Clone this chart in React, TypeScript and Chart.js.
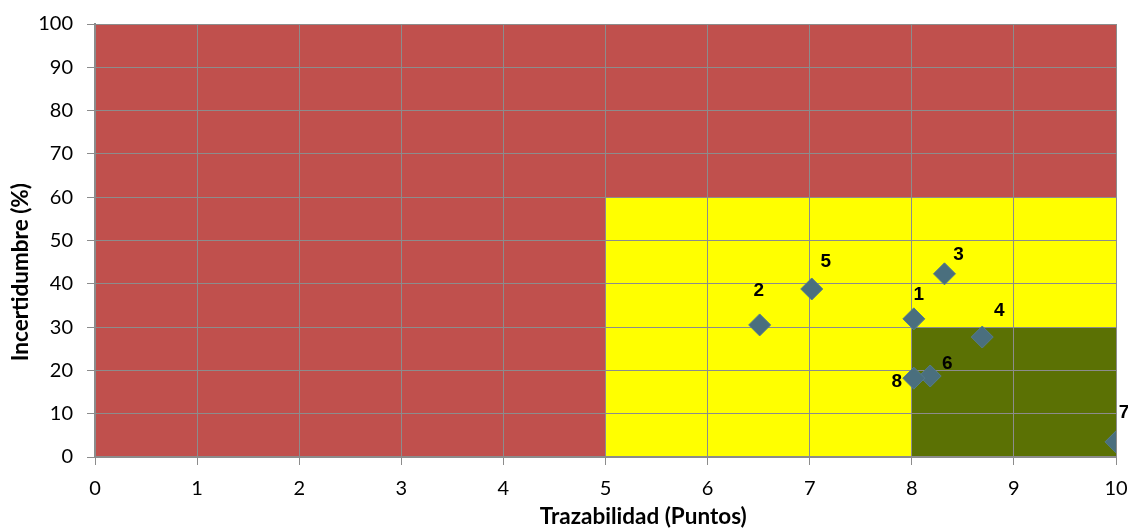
import React, { useEffect, useRef } from "react";
import { Chart, registerables } from "chart.js";

Chart.register(...registerables);

const pointIds = ["1", "2", "3", "4", "5", "6", "7", "8"];
const trazabilidad = [8.02, 6.51, 8.32, 8.69, 7.02, 8.18, 10.0, 8.02];
const incertidumbre = [31.9, 30.5, 42.3, 27.7, 38.8, 18.7, 3.5, 18.2];

// zones: [xMin, xMax, yMin, yMax, color]
const zoneXMin = [0, 5, 8];
const zoneXMax = [10, 10, 10];
const zoneYMin = [0, 0, 0];
const zoneYMax = [100, 60, 30];
const zoneColors = ["#C0504D", "#FFFF00", "#5B7104"];

const xTicks = [0, 1, 2, 3, 4, 5, 6, 7, 8, 9, 10];
const yTicks = [0, 10, 20, 30, 40, 50, 60, 70, 80, 90, 100];

const xTitle = "Trazabilidad (Puntos)";
const yTitle = "Incertidumbre (%)";

// label offsets in pixels (style only)
const labelDx = [5, -1, 14, 17, 14, 17, 8, -17];
const labelDy = [-24, -34, -19, -26, -27, -12, -29, 4];

const zonesPlugin = {
  id: "zones",
  beforeDraw(chart: any) {
    const { ctx, scales } = chart;
    const xs = scales.x;
    const ys = scales.y;
    ctx.save();
    for (let i = 0; i < zoneColors.length; i++) {
      const x1 = xs.getPixelForValue(zoneXMin[i]);
      const x2 = xs.getPixelForValue(zoneXMax[i]);
      const y1 = ys.getPixelForValue(zoneYMax[i]);
      const y2 = ys.getPixelForValue(zoneYMin[i]);
      ctx.fillStyle = zoneColors[i];
      ctx.fillRect(x1, y1, x2 - x1, y2 - y1);
    }
    ctx.restore();
  },
};

const labelsPlugin = {
  id: "ptlabels",
  afterDatasetsDraw(chart: any) {
    const { ctx } = chart;
    const meta = chart.getDatasetMeta(0);
    ctx.save();
    ctx.font = "bold 19px 'Liberation Sans', Arial, sans-serif";
    ctx.fillStyle = "#000000";
    ctx.textAlign = "center";
    ctx.textBaseline = "middle";
    meta.data.forEach((el: any, i: number) => {
      ctx.fillText(pointIds[i], el.x + labelDx[i], el.y + labelDy[i]);
    });
    ctx.restore();
  },
};

const titlesPlugin = {
  id: "axtitles",
  afterDraw(chart: any) {
    const { ctx, chartArea } = chart;
    const w = chartArea.right - chartArea.left;
    const h = chartArea.bottom - chartArea.top;
    ctx.save();
    ctx.font = "bold 22.5px Lato, 'Open Sans', sans-serif";
    ctx.fillStyle = "#000000";
    ctx.textAlign = "center";
    ctx.textBaseline = "middle";
    ctx.fillText(xTitle, chartArea.left + 0.537 * w, 517);
    ctx.translate(21, chartArea.top + 0.573 * h);
    ctx.rotate(-Math.PI / 2);
    ctx.fillText(yTitle, 0, 0);
    ctx.restore();
  },
};

export default function App() {
  const ref = useRef<HTMLCanvasElement | null>(null);
  useEffect(() => {
    document.body.style.margin = "0";
    if (!ref.current) return;
    const chart = new Chart(ref.current, {
      type: "scatter",
      data: {
        datasets: [
          {
            data: trazabilidad.map((x, i) => ({ x, y: incertidumbre[i] })),
            pointStyle: "rectRot",
            pointRadius: 11,
            pointBackgroundColor: "#4A6F7E",
            pointBorderColor: "#557C8C",
            pointBorderWidth: 1,
          },
        ],
      },
      options: {
        animation: false,
        responsive: false,
        maintainAspectRatio: false,
        layout: { padding: { top: 24, right: 12, left: 0, bottom: 0 } },
        plugins: {
          legend: { display: false },
          tooltip: { enabled: false },
        },
        scales: {
          x: {
            type: "linear",
            min: 0,
            max: 10,
            afterBuildTicks: (s: any) => {
              s.ticks = xTicks.map((v) => ({ value: v }));
            },
            afterFit: (s: any) => {
              s.height = 73;
              s.paddingLeft = 0;
              s.paddingRight = 0;
            },
            ticks: {
              color: "#000000",
              font: { family: "Lato, 'Open Sans', sans-serif", size: 20 },
              padding: 12,
              maxRotation: 0,
            },
            grid: { color: "#8C8C8C", lineWidth: 1, tickLength: 8 },
            border: { color: "#8C8C8C", width: 2 },
            title: { display: false },
          },
          y: {
            type: "linear",
            min: 0,
            max: 100,
            afterBuildTicks: (s: any) => {
              s.ticks = yTicks.map((v) => ({ value: v }));
            },
            afterFit: (s: any) => {
              s.width = 95;
              s.paddingTop = 0;
              s.paddingBottom = 0;
            },
            ticks: {
              color: "#000000",
              font: { family: "Lato, 'Open Sans', sans-serif", size: 20 },
              padding: 14,
            },
            grid: { color: "#8C8C8C", lineWidth: 1, tickLength: 8 },
            border: { color: "#8C8C8C", width: 2 },
            title: { display: false },
          },
        },
      },
      plugins: [zonesPlugin, labelsPlugin, titlesPlugin],
    });
    return () => chart.destroy();
  }, []);
  return (
    <div style={{ width: 1128, height: 530 }}>
      <canvas ref={ref} width={1128} height={530} style={{ display: "block" }} />
    </div>
  );
}
